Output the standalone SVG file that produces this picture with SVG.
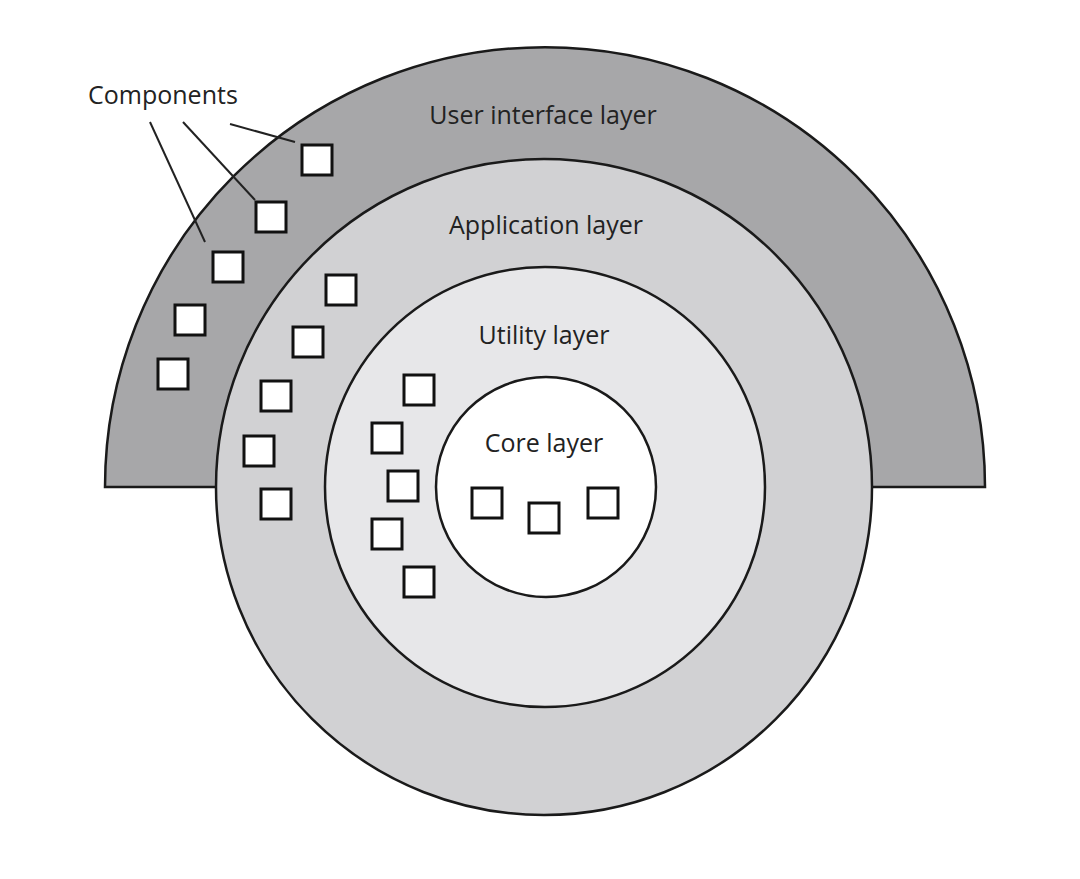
<svg xmlns="http://www.w3.org/2000/svg" width="1080" height="879" viewBox="0 0 1080 879">
<style>
.layer{stroke:#1a1a1a;stroke-width:2.5}
.c{fill:#fff;stroke:#111;stroke-width:3}
text{font-family:"Open Sans","Liberation Sans",sans-serif;font-size:25px;fill:#222}
.ln{stroke:#222;stroke-width:2;fill:none}
</style>
<rect width="1080" height="879" fill="#fff"/>
<g id="ui-layer">
<path class="layer" d="M105,487 A440,440 0 0 1 985,487 Z" fill="#a7a7a9"/>
<text x="543" y="124" text-anchor="middle">User interface layer</text>
</g>
<g id="application-layer">
<circle class="layer" cx="544" cy="487" r="328" fill="#d1d1d3"/>
<text x="546" y="234" text-anchor="middle">Application layer</text>
</g>
<g id="utility-layer">
<circle class="layer" cx="545" cy="487" r="220" fill="#e7e7e9"/>
<text x="544" y="344" text-anchor="middle">Utility layer</text>
</g>
<g id="core-layer">
<circle class="layer" cx="546" cy="487" r="110" fill="#fff"/>
<text x="544" y="452" text-anchor="middle">Core layer</text>
</g>
<g id="components">
<rect class="c" x="302" y="145" width="30" height="30"/>
<rect class="c" x="256" y="202" width="30" height="30"/>
<rect class="c" x="213" y="252" width="30" height="30"/>
<rect class="c" x="175" y="305" width="30" height="30"/>
<rect class="c" x="158" y="359" width="30" height="30"/>
<rect class="c" x="326" y="275" width="30" height="30"/>
<rect class="c" x="293" y="327" width="30" height="30"/>
<rect class="c" x="261" y="381" width="30" height="30"/>
<rect class="c" x="244" y="436" width="30" height="30"/>
<rect class="c" x="261" y="489" width="30" height="30"/>
<rect class="c" x="404" y="375" width="30" height="30"/>
<rect class="c" x="372" y="423" width="30" height="30"/>
<rect class="c" x="388" y="471" width="30" height="30"/>
<rect class="c" x="372" y="519" width="30" height="30"/>
<rect class="c" x="404" y="567" width="30" height="30"/>
<rect class="c" x="472" y="488" width="30" height="30"/>
<rect class="c" x="529" y="503" width="30" height="30"/>
<rect class="c" x="588" y="488" width="30" height="30"/>
</g>
<g id="components-label">
<text x="88" y="104">Components</text>
</g>
<g id="connectors">
<line class="ln" x1="150" y1="122" x2="205" y2="242"/>
<line class="ln" x1="183" y1="122" x2="255" y2="200"/>
<line class="ln" x1="230" y1="124" x2="295" y2="142"/>
</g>
</svg>
